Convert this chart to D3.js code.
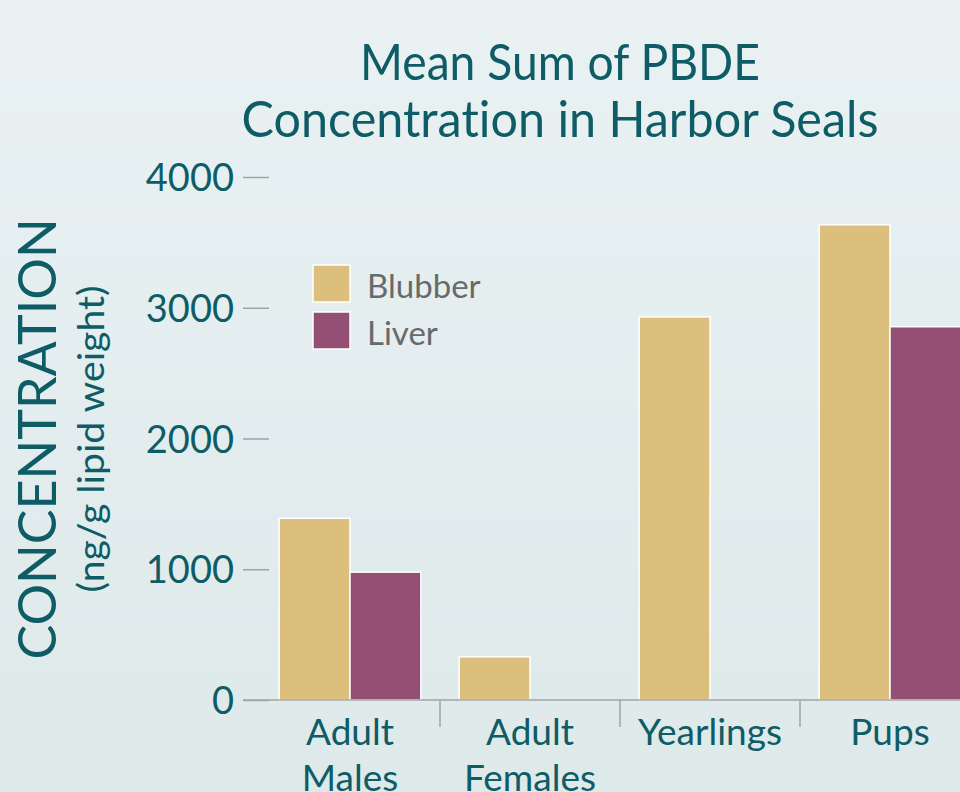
<!DOCTYPE html>
<html>
<head>
<meta charset="utf-8">
<script src="https://cdn.jsdelivr.net/npm/d3@7/dist/d3.min.js"></script>
<style>
  html, body { margin: 0; padding: 0; overflow: hidden; }
  svg { display: block; }
  text { font-family: Lato, "Open Sans", sans-serif; font-variant-ligatures: none; }
</style>
</head>
<body>
<div id="chart"></div>
<script>
// data
const categories = ['Adult Males', 'Adult Females', 'Yearlings', 'Pups'];
const seriesNames = ['Blubber', 'Liver'];
const blubberValues = [1390, 330, 2930, 3635];
const liverValues = [978, null, null, 2855];
const yTicks = [0, 1000, 2000, 3000, 4000];

const colors = {Blubber: '#dcbf7c', Liver: '#944f74'};
const teal = '#0e5c65';
const axisGray = '#a0a4a5';

const width = 960, height = 792;

const svg = d3.select('#chart').append('svg')
  .attr('width', width)
  .attr('height', height);

// background gradient
const grad = svg.append('defs').append('linearGradient')
  .attr('id', 'bg').attr('x1', 0).attr('y1', 0).attr('x2', 0).attr('y2', 1);
grad.append('stop').attr('offset', '0%').attr('stop-color', '#e9f1f3');
grad.append('stop').attr('offset', '100%').attr('stop-color', '#dee9ea');
svg.append('rect').attr('width', width).attr('height', height).attr('fill', 'url(#bg)');

// scales
const x0 = d3.scaleBand().domain(categories).range([260, 980]).padding(0);
const x1 = d3.scaleBand().domain(seriesNames).range([0, x0.bandwidth()])
  .paddingInner(0).paddingOuter(0.27);
const y = d3.scaleLinear().domain([0, 4000]).range([700, 177]);

// title
const title = svg.append('text')
  .attr('text-anchor', 'middle')
  .attr('fill', teal)
  .style('font-size', '50px');
title.append('tspan').attr('x', 560).attr('y', 80)
  .attr('textLength', 400).attr('lengthAdjust', 'spacingAndGlyphs')
  .text('Mean Sum of PBDE');
title.append('tspan').attr('x', 560).attr('y', 137)
  .attr('textLength', 637).attr('lengthAdjust', 'spacingAndGlyphs')
  .text('Concentration in Harbor Seals');

// y axis
const yAxis = svg.append('g')
  .attr('transform', 'translate(269,0)')
  .call(d3.axisLeft(y).tickValues(yTicks).tickSize(26).tickPadding(9).tickFormat(d3.format('d')));
yAxis.select('.domain').remove();
yAxis.selectAll('.tick line').attr('stroke', axisGray).attr('stroke-width', 1.5);
yAxis.selectAll('.tick text')
  .attr('fill', teal)
  .attr('dy', '0.36em')
  .style('font-size', '38px')
  .style('font-family', 'Lato, sans-serif');

// y axis title
svg.append('text')
  .attr('transform', 'translate(56,439) rotate(-90)')
  .attr('text-anchor', 'middle')
  .attr('fill', teal)
  .style('font-size', '52px')
  .text('CONCENTRATION');
svg.append('text')
  .attr('transform', 'translate(104,439) rotate(-90)')
  .attr('text-anchor', 'middle')
  .attr('fill', teal)
  .style('font-size', '37px')
  .attr('textLength', 307).attr('lengthAdjust', 'spacingAndGlyphs')
  .text('(ng/g lipid weight)');

// bars
const rows = categories.map((c, i) => ({
  category: c,
  values: [
    {key: 'Blubber', value: blubberValues[i]},
    {key: 'Liver', value: liverValues[i]}
  ].filter(d => d.value != null)
}));

const groups = svg.selectAll('g.group')
  .data(rows)
  .enter().append('g')
  .attr('class', 'group')
  .attr('transform', d => `translate(${x0(d.category)},0)`);

groups.selectAll('rect')
  .data(d => d.values)
  .enter().append('rect')
  .attr('x', d => x1(d.key))
  .attr('y', d => y(d.value))
  .attr('width', x1.bandwidth())
  .attr('height', d => y(0) - y(d.value))
  .attr('fill', d => colors[d.key])
  .attr('stroke', '#ffffff')
  .attr('stroke-width', 1.5);

// x axis line and category separators
svg.append('line')
  .attr('x1', 243).attr('x2', width)
  .attr('y1', y(0)).attr('y2', y(0))
  .attr('stroke', axisGray).attr('stroke-width', 1.5);

svg.selectAll('line.sep')
  .data(categories.slice(1))
  .enter().append('line')
  .attr('class', 'sep')
  .attr('x1', d => x0(d)).attr('x2', d => x0(d))
  .attr('y1', y(0)).attr('y2', y(0) + 27)
  .attr('stroke', axisGray).attr('stroke-width', 1.5);

// category labels (second line runs off the bottom edge, as in the original)
const xLabels = svg.selectAll('text.xlabel')
  .data(categories)
  .enter().append('text')
  .attr('class', 'xlabel')
  .attr('text-anchor', 'middle')
  .attr('fill', teal)
  .style('font-size', '37px');
xLabels.each(function (d) {
  const cx = x0(d) + x0.bandwidth() / 2;
  d.split(' ').forEach((word, i) => {
    d3.select(this).append('tspan')
      .attr('x', cx)
      .attr('y', 745 + i * 46)
      .text(word);
  });
});

// legend
const legend = svg.append('g').attr('transform', 'translate(313,265)');
const legendItems = legend.selectAll('g')
  .data(seriesNames)
  .enter().append('g')
  .attr('transform', (d, i) => `translate(0,${i * 47})`);
legendItems.append('rect')
  .attr('width', 37).attr('height', 37)
  .attr('fill', d => colors[d])
  .attr('stroke', '#ffffff').attr('stroke-width', 1.5);
legendItems.append('text')
  .attr('x', 54).attr('y', 33)
  .attr('fill', '#676a6b')
  .style('font-size', '33px')
  .text(d => d);
</script>
</body>
</html>
